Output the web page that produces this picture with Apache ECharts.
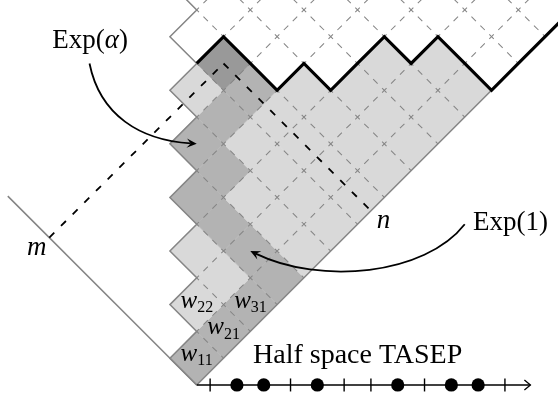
<!DOCTYPE html>
<html><head><meta charset="utf-8">
<script src="https://cdn.jsdelivr.net/npm/echarts@6/dist/echarts.min.js"></script>
<style>html,body{margin:0;padding:0;background:#fff}#c{width:558px;height:393px}</style>
</head><body><div id="c"></div>
<script>
// ---- data (lattice units: corner (a,b) -> x = a-b, y = a+b) ----
// half-space TASEP configuration, sites 1..12 (1 = particle, 0 = hole)
const sites = [1,2,3,4,5,6,7,8,9,10,11,12];
const occupation = [0,1,1,0,1,0,0,1,0,1,1,0];
const particleCount = 6;                 // profile starts at height 2*6 on the diagonal
// geodesic (last passage path) cells, zero-based (u = i-1, v = j-1)
const geodesicU = [0,1,2,3,3,3,3,4,4,5,6];
const geodesicV = [0,0,0,0,1,2,3,3,4,4,4];
const endCell = [6,5];                   // w_{n,m} with n = 7, m = 6
// weight labels: cell u, cell v, subscript
const labelU = [0,1,2,1];
const labelV = [0,0,0,1];
const labelSub = ['11','21','31','22'];
// outer left boundary length (lattice units)
const leftEdgeLength = 7.05;
// annotation anchors (lattice x,y)
const alphaText = ['Exp(', 'α', ')'];
const alphaAnchor = [-3.98, 12.5];
const alphaArrow = [[-4,12],[-3.61,10.07],[-2.12,9.14]];   // start, control1, control2 (tip = cell [4,4])
const alphaTarget = [4,4];
const oneText = 'Exp(1)';
const oneAnchor = [10.31, 5.71];
const oneArrow = [[10,6],[8.52,4.1],[4.6,3.73]];
const oneTarget = [3,1];
const mAnchor = [-5.97, 4.78];
const nAnchor = [6.97, 5.78];
const tasepText = 'Half space TASEP';
const tasepAnchor = [2.10, 0.75];
const tasepAxisEnd = 12.45;

// view extents in lattice units
const X_MIN = -7.34, X_MAX = 13.48, Y_MIN = -0.30, Y_MAX = 14.37;

const LIGHT = '#d9d9d9', MID = '#b3b3b3', DARK = '#999999', GREY = '#858585';
const SERIF = '"Liberation Serif", "Times New Roman", serif';

// profile heights
const profX = [0], profY = [2 * particleCount];
occupation.forEach((o, i) => { profX.push(i + 1); profY.push(profY[i] + (o ? -1 : 1)); });
const hgt = x => x < profY.length ? profY[x] : profY[profY.length - 1] + (x - profY.length + 1);

const chart = echarts.init(document.getElementById('c'), null, {renderer: 'canvas'});

function renderItem(params, api) {
  const P = (x, y) => api.coord([x, y]);
  const C = (a, b) => P(a - b, a + b);
  const ch = [];
  const isGeo = (u, v) => geodesicU.some((gu, k) => gu === u && geodesicV[k] === v);
  const cellPoly = (u, v, fill) => ch.push({type: 'polygon',
    shape: {points: [C(u, v), C(u + 1, v), C(u + 1, v + 1), C(u, v + 1)]},
    style: {fill: fill, stroke: fill, lineWidth: 0.6}});
  // fills
  for (let u = 0; u < 16; u++) for (let v = 0; v <= u; v++) {
    if (u + v + 2 > hgt(u - v)) continue;
    if (u === endCell[0] && v === endCell[1]) cellPoly(u, v, DARK);
    else if (isGeo(u, v)) cellPoly(u, v, MID);
    else cellPoly(u, v, LIGHT);
  }
  // dashed grid
  const e = Math.hypot(C(1,0)[0] - C(0,0)[0], C(1,0)[1] - C(0,0)[1]);
  const per = e / 3, dash = 6.3;
  const gridStyle = {stroke: GREY, lineWidth: 1.05, fill: 'none', lineDash: [dash, per - dash], lineDashOffset: dash / 2};
  for (let a = 1; a <= 16; a++) {
    const p = C(a, 0), q = C(a, a);
    ch.push({type: 'line', shape: {x1: p[0], y1: p[1], x2: q[0], y2: q[1]}, style: gridStyle});
  }
  for (let b = 1; b <= 9; b++) {
    const p = C(b, b), q = C(18, b);
    ch.push({type: 'line', shape: {x1: p[0], y1: p[1], x2: q[0], y2: q[1]}, style: gridStyle});
  }
  // solid grey outlines
  const solid = {stroke: GREY, lineWidth: 1.5, fill: 'none'};
  const l0 = C(0, 0), l1 = C(0, leftEdgeLength);
  ch.push({type: 'line', shape: {x1: l0[0], y1: l0[1], x2: l1[0], y2: l1[1]}, style: solid});
  const zig = [C(0, 0)];
  for (let k = 0; k <= 7; k++) { zig.push(C(k, k + 1)); zig.push(C(k + 1, k + 1)); }
  zig.push(C(8, 9));
  ch.push({type: 'polyline', shape: {points: zig}, style: solid});
  const joinA = profX.findIndex((x, i) => profY[i] === x && x > 0); // profile meets b = 0
  const r1 = C(joinA, 0);
  ch.push({type: 'line', shape: {x1: l0[0], y1: l0[1], x2: r1[0], y2: r1[1]}, style: solid});
  // thick profile
  const prof = profX.map((x, i) => P(x, profY[i]));
  prof.push(P(profX[profX.length - 1] + 4, profY[profY.length - 1] + 4));
  ch.push({type: 'polyline', shape: {points: prof}, style: {stroke: '#000', lineWidth: 3.2, fill: 'none', lineJoin: 'miter'}});
  // dashed n / m lines
  const n = endCell[0] + 1, m = endCell[1] + 1;
  const cen = P(endCell[0] - endCell[1], endCell[0] + endCell[1] + 1);
  const mp = C(0, m - 0.5), np = C(n - 0.5, 0);
  const blackDash = {stroke: '#000', lineWidth: 1.8, fill: 'none', lineDash: [7, 9.5]};
  ch.push({type: 'line', shape: {x1: mp[0], y1: mp[1], x2: cen[0], y2: cen[1]}, style: blackDash});
  ch.push({type: 'line', shape: {x1: cen[0], y1: cen[1], x2: np[0], y2: np[1]}, style: blackDash});
  // curved arrows
  const arrow = (pts, target) => {
    const s = P(pts[0][0], pts[0][1]), c1 = P(pts[1][0], pts[1][1]), c2 = P(pts[2][0], pts[2][1]);
    const t = P(target[0] - target[1], target[0] + target[1] + 1);
    let dx = t[0] - c2[0], dy = t[1] - c2[1]; const L = Math.hypot(dx, dy); dx /= L; dy /= L;
    const back = [t[0] - 6 * dx, t[1] - 6 * dy];
    ch.push({type: 'bezierCurve', shape: {x1: s[0], y1: s[1], cpx1: c1[0], cpy1: c1[1], cpx2: c2[0], cpy2: c2[1], x2: back[0], y2: back[1]},
      style: {stroke: '#000', lineWidth: 1.8, fill: 'none'}});
    const nx = -dy, ny = dx, AL = 10, AW = 4.6;
    ch.push({type: 'polygon', shape: {points: [t,
      [t[0] - AL * dx + AW * nx, t[1] - AL * dy + AW * ny],
      [t[0] - 0.6 * AL * dx, t[1] - 0.6 * AL * dy],
      [t[0] - AL * dx - AW * nx, t[1] - AL * dy - AW * ny]]}, style: {fill: '#000'}});
  };
  arrow(alphaArrow, alphaTarget);
  arrow(oneArrow, oneTarget);
  // texts
  const FS = 27, FT = 28;
  const txt = (s, p, align, font, dy) => ch.push({type: 'text', style: {text: s, x: p[0], y: p[1] - dy,
    font: font, fill: '#000', align: align, verticalAlign: 'middle', textAlign: align, textVerticalAlign: 'middle'}});
  const mid = s => 0.34 * s;
  const aA = P(alphaAnchor[0], alphaAnchor[1]);
  ch.push({type: 'text', style: {text: alphaText[0] + '{a|' + alphaText[1] + '}' + alphaText[2], x: aA[0], y: aA[1] - mid(FS),
    font: FS + 'px ' + SERIF, fill: '#000', align: 'center', verticalAlign: 'middle',
    rich: {a: {fontStyle: 'italic', fontSize: FS, fontFamily: '"Liberation Serif", serif'}}}});
  txt(oneText, P(oneAnchor[0], oneAnchor[1]), 'left', FS + 'px ' + SERIF, mid(FS));
  txt('m', P(mAnchor[0], mAnchor[1]), 'center', 'italic ' + FS + 'px ' + SERIF, mid(FS));
  txt('n', P(nAnchor[0], nAnchor[1]), 'center', 'italic ' + FS + 'px ' + SERIF, mid(FS));
  txt(tasepText, P(tasepAnchor[0], tasepAnchor[1]), 'left', FT + 'px ' + SERIF, mid(FT));
  labelU.forEach((u, k) => {
    const v = labelV[k];
    const c = P(u - v, u + v + 1);
    txt('w', [c[0] + 0.5, c[1] + 5], 'right', 'italic 25px ' + SERIF, mid(25));
    txt(labelSub[k], [c[0] + 0.5, c[1] + 8.5], 'left', '16px ' + SERIF, mid(16));
  });
  // TASEP axis
  const a0 = P(0, 0), a1 = P(tasepAxisEnd, 0);
  ch.push({type: 'line', shape: {x1: a0[0], y1: a0[1], x2: a1[0], y2: a1[1]}, style: {stroke: '#000', lineWidth: 1.4}});
  ch.push({type: 'polyline', shape: {points: [[a1[0] - 6, a1[1] - 5], [a1[0], a1[1]], [a1[0] - 6, a1[1] + 5]]},
    style: {stroke: '#000', lineWidth: 1.3, fill: 'none'}});
  sites.forEach((s, k) => {
    const p = P(s - 0.5, 0);
    if (occupation[k]) ch.push({type: 'circle', shape: {cx: p[0], cy: p[1], r: 6.6}, style: {fill: '#000'}});
    else ch.push({type: 'line', shape: {x1: p[0], y1: p[1] - 6.5, x2: p[0], y2: p[1] + 6.5}, style: {stroke: '#000', lineWidth: 1.4}});
  });
  return {type: 'group', children: ch};
}

chart.setOption({
  animation: false,
  grid: {left: 0, right: 0, top: 0, bottom: 0},
  xAxis: {type: 'value', min: X_MIN, max: X_MAX, show: false},
  yAxis: {type: 'value', min: Y_MIN, max: Y_MAX, show: false},
  series: [{type: 'custom', coordinateSystem: 'cartesian2d', clip: true, silent: true,
    data: [[0, 0]], renderItem: renderItem}]
});
</script></body></html>
